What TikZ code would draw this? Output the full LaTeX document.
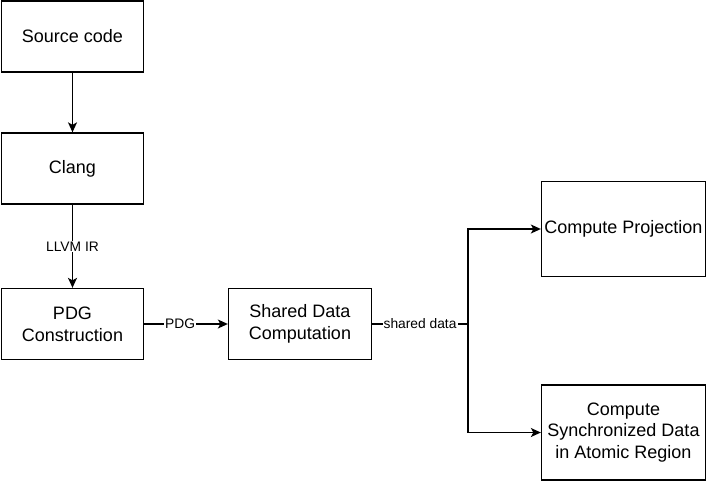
\documentclass[tikz,border=0pt]{standalone}
\usepackage{fontspec}
\setmainfont{Liberation Sans}
\usetikzlibrary{arrows.meta}

\tikzset{
  stage/.style={draw, line width=1.3pt, align=center, inner sep=0pt,
    font=\fontsize{18}{21.7}\selectfont},
  flow/.style={-{Stealth[length=10pt,width=9pt,inset=2.5pt]}, line width=1.3pt},
  tag/.style={fill=white, inner sep=1pt, font=\fontsize{13.8}{16}\selectfont}
}

\begin{document}
\begin{tikzpicture}[x=1pt,y=-1pt]
  \useasboundingbox (0,0) rectangle (710,482);

  % Pipeline on the left
  \node[stage, minimum width=142pt, minimum height=71pt] (src) at (72.5,36.5) {Source code};
  \node[stage, minimum width=142pt, minimum height=71pt] (clang) at (72.5,168.5) {Clang};
  \node[stage, minimum width=142pt, minimum height=71pt] (pdg) at (72.5,324) {PDG\\Construction};
  \node[stage, minimum width=143pt, minimum height=71pt] (shared) at (300,324) {Shared Data\\Computation};

  % Consumers on the right
  \node[stage, minimum width=164pt, minimum height=95pt] (proj) at (623.5,229) {Compute Projection};
  \node[stage, minimum width=164pt, minimum height=95pt] (sync) at (623.5,432.5) {Compute\\Synchronized Data\\in Atomic Region};
  \coordinate (fork) at (468,324);

  % Connectors
  \draw[flow] (src) -- (clang);
  \draw[flow] (clang) -- node[tag] {LLVM IR} (pdg);
  \draw[flow] (pdg) -- node[tag, pos=0.43] {PDG} (shared);
  \draw[line width=1.3pt] (shared) -- node[tag] {shared data} (fork);
  \draw[flow] (fork) |- (proj.west);
  \draw[flow] (fork) |- (sync.west);

\end{tikzpicture}
\end{document}
